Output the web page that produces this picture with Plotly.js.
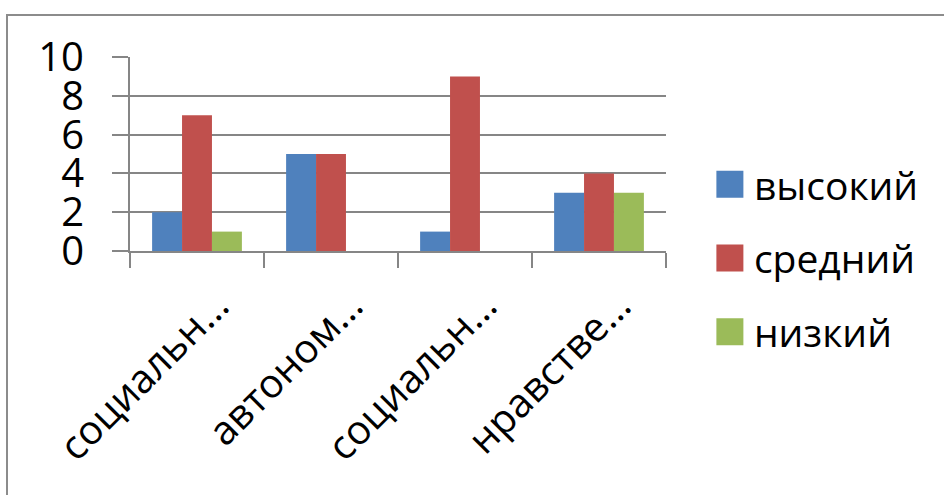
<!DOCTYPE html>
<html>
<head>
<meta charset="utf-8">
<script src="https://cdn.plot.ly/plotly-3.0.1.min.js"></script>
<style>
  html, body { margin: 0; padding: 0; background: #fff; }
  #wrap { position: relative; width: 944px; height: 495px; overflow: hidden; }
  #chart { width: 944px; height: 495px; }
  #frame { position: absolute; left: 6px; top: 14px; width: 1000px; height: 600px;
           border: 2px solid #8c8c8c; pointer-events: none; }
</style>
</head>
<body>
<div id="wrap">
  <div id="chart"></div>
  <div id="frame"></div>
</div>
<script>
const categories = ["социальн…", "автоном…", "социальн…", "нравстве…"];
const seriesNames = ["высокий", "средний", "низкий"];
const vysokiy = [2, 5, 1, 3];
const sredniy = [7, 5, 9, 4];
const nizkiy  = [1, 0, 0, 3];
const yTicks = [0, 2, 4, 6, 8, 10];

const colors = ["#4F81BD", "#C0504D", "#9BBB59"];
const values = [vysokiy, sredniy, nizkiy];
const xIdx = categories.map((_, i) => i);

const FONT = "Open Sans, Liberation Sans, sans-serif";

const traces = values.map((v, k) => ({
  type: "bar",
  name: seriesNames[k],
  legendgroup: "g" + k,
  x: xIdx,
  y: v,
  marker: { color: colors[k], line: { width: 0 } },
  hoverinfo: "skip"
}));

const layout = {
  width: 944, height: 495,
  margin: { l: 130, r: 278, t: 57, b: 244, pad: 0 },
  paper_bgcolor: "#fff", plot_bgcolor: "#fff",
  barmode: "group",
  bargap: 0.33, bargroupgap: 0,
  showlegend: true,
  legend: {
    xref: "container", yref: "container",
    x: 0.752, y: 0.692, xanchor: "left", yanchor: "top",
    traceorder: "grouped", tracegroupgap: 20,
    font: { family: FONT, size: 39, color: "#000" },
    bgcolor: "rgba(0,0,0,0)", borderwidth: 0
  },
  xaxis: {
    range: [-0.5, 3.5],
    tickmode: "array", tickvals: xIdx, ticktext: categories,
    tickangle: -45,
    ticks: "", showgrid: false, zeroline: false,
    showline: true, linecolor: "#868686", linewidth: 2,
    tickfont: { family: FONT, size: 40, color: "#000" },
    ticklabelshift: 20, ticklabelstandoff: 13,
    minor: { ticks: "outside", ticklen: 15, tickwidth: 2, tickcolor: "#868686",
             tick0: 0.5, dtick: 1, showgrid: false },
    fixedrange: true
  },
  yaxis: {
    range: [0, 10],
    tickmode: "array", tickvals: yTicks, ticktext: yTicks.map(String),
    ticks: "outside", ticklen: 16, tickwidth: 2, tickcolor: "#868686",
    showgrid: true, gridcolor: "#868686", gridwidth: 2,
    zeroline: false,
    showline: true, linecolor: "#868686", linewidth: 2,
    tickfont: { family: FONT, size: 40, color: "#000" },
    ticklabelstandoff: 20,
    fixedrange: true
  }
};

Plotly.newPlot("chart", traces, layout, { staticPlot: true, displayModeBar: false }).then(gd => {
  gd.querySelectorAll(".legend .legendpoints path").forEach(p => {
    const t = p.getAttribute("transform") || "";
    p.setAttribute("transform", t + " scale(2.25)");
    p.style.strokeWidth = "0";
  });
  gd.querySelectorAll(".legend .legendtext").forEach(t => {
    t.setAttribute("x", "44");
  });
});
</script>
</body>
</html>
